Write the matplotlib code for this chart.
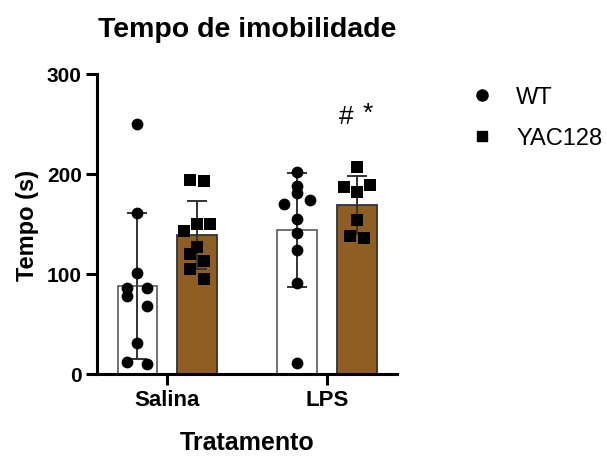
import matplotlib.pyplot as plt
from matplotlib.lines import Line2D

plt.rcParams['font.family'] = ['Liberation Sans', 'DejaVu Sans']

groups = ['Salina', 'LPS']
genotypes = ['WT', 'YAC128']

# group means and SD
wt_mean = [88, 144]
wt_sd = [73, 57]
yac_mean = [139, 169]
yac_sd = [34, 29]

# individual animals (s)
wt_salina = [250, 161, 101, 86, 86, 78, 68, 31, 12, 10]
yac_salina = [194, 193, 150, 150, 143, 127, 120, 113, 105, 95]
wt_lps = [202, 188, 181, 170, 174, 155, 141, 124, 91, 11]
yac_lps = [207, 187, 189, 182, 154, 138, 136]

# horizontal spread of the dots (in small steps)
wt_salina_j = [0, 0, 0, -1.5, 1.5, -1.5, 1.5, 0, -1.5, 1.5]
yac_salina_j = [-1, 1, 0, 2, -2, 0, -1, 1, -1, 1]
wt_lps_j = [0, 0, 0, -2, 2, 0, 0, 0, 0, 0]
yac_lps_j = [0, -2, 2, 0, 0, -1, 1]

brown = '#8E5E22'
off = 0.1875
width = 0.245
step = 0.0417

fig = plt.figure(figsize=(6.07, 4.6), dpi=100)
ax = fig.add_axes([0.16, 0.185, 0.494, 0.652])

xs = [0, 1]
wt_x = [x - off for x in xs]
yac_x = [x + off for x in xs]

ax.bar(wt_x, wt_mean, width, color='white', edgecolor='#666666', linewidth=1.3, zorder=1)
ax.bar(yac_x, yac_mean, width, color=brown, edgecolor='#333333', linewidth=1.3, zorder=1)
ax.errorbar(wt_x, wt_mean, yerr=wt_sd, fmt='none', ecolor='#333333', elinewidth=1.4,
            capsize=7, capthick=1.4, zorder=2)
ax.errorbar(yac_x, yac_mean, yerr=yac_sd, fmt='none', ecolor='#333333', elinewidth=1.4,
            capsize=7, capthick=1.4, zorder=2)

for cx, vals, jit, mk in [(wt_x[0], wt_salina, wt_salina_j, 'o'),
                          (yac_x[0], yac_salina, yac_salina_j, 's'),
                          (wt_x[1], wt_lps, wt_lps_j, 'o'),
                          (yac_x[1], yac_lps, yac_lps_j, 's')]:
    px = [cx + j * step for j in jit]
    ax.scatter(px, vals, marker=mk, s=72, color='black', zorder=3, linewidths=0)

ax.text(1.123, 258, '#', fontsize=19, ha='center', va='center')
ax.text(1.256, 261, '*', fontsize=19, ha='center', va='center')

ax.set_xlim(-0.4375, 1.4375)
ax.set_ylim(0, 300)
ax.set_yticks([0, 100, 200, 300])
ax.set_xticks(xs)
ax.set_xticklabels(groups, fontsize=16, fontweight='bold')
for lab in ax.get_yticklabels():
    lab.set_fontsize(15)
    lab.set_fontweight('bold')
ax.spines['top'].set_visible(False)
ax.spines['right'].set_visible(False)
for s in ['left', 'bottom']:
    ax.spines[s].set_linewidth(2.2)
ax.tick_params(axis='both', width=2.2, length=8, pad=3)

ax.set_title('Tempo de imobilidade', fontsize=20.5, fontweight='bold', pad=27)
ax.set_xlabel('Tratamento', fontsize=18, fontweight='bold', labelpad=14)
ax.set_ylabel('Tempo (s)', fontsize=17, fontweight='bold', labelpad=6)

handles = [Line2D([], [], marker='o', ls='none', color='black', markersize=8),
           Line2D([], [], marker='s', ls='none', color='black', markersize=7)]
fig.legend(handles, genotypes, loc='upper left', bbox_to_anchor=(0.72, 0.857),
           frameon=False, fontsize=17, handletextpad=0.45, labelspacing=0.8)

fig.savefig('out.png', dpi=100)
